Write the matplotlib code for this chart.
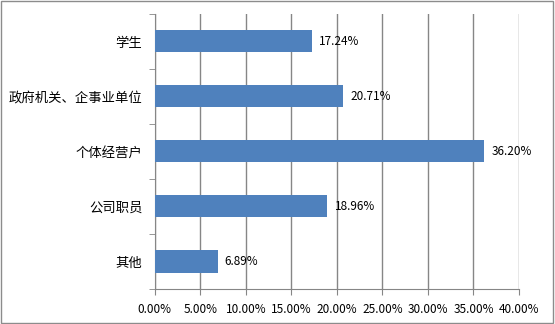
import matplotlib.pyplot as plt
import matplotlib.patches as patches
from matplotlib.ticker import FuncFormatter, MultipleLocator, FixedLocator

plt.rcParams['font.family'] = ['Noto Sans CJK SC', 'DejaVu Sans']

# data, top to bottom
categories = ['学生', '政府机关、企事业单位', '个体经营户', '公司职员', '其他']
shares = [17.24, 20.71, 36.20, 18.96, 6.89]

bar_color = '#4F81BD'
grid_color = '#868686'

fig = plt.figure(figsize=(5.55, 3.24), dpi=100)
ax = fig.add_axes([0.279, 0.108, 0.656, 0.849])

ypos = list(range(len(categories)))[::-1]
ax.barh(ypos, shares, height=0.4, color=bar_color, zorder=3)

# value labels
for y, v in zip(ypos, shares):
    ax.text(v + 0.8, y, f'{v:.2f}%', va='center', ha='left', fontsize=8.5, color='#000000')

ax.set_xlim(0, 40)
ax.set_ylim(-0.5, len(categories) - 0.5)
ax.xaxis.set_major_locator(MultipleLocator(5))
ax.xaxis.set_major_formatter(FuncFormatter(lambda v, p: f'{v:.2f}%'))
ax.grid(axis='x', color=grid_color, linewidth=1, zorder=0)

ax.set_yticks(ypos)
ax.set_yticklabels(categories, fontsize=9.6)
ax.yaxis.set_minor_locator(FixedLocator([i - 0.5 for i in range(len(categories) + 1)]))
ax.tick_params(axis='y', which='major', length=0, pad=9)
ax.tick_params(axis='y', which='minor', length=4, color=grid_color)
ax.tick_params(axis='x', length=4, color=grid_color, labelsize=8.5, pad=6)

for s in ['top', 'right']:
    ax.spines[s].set_visible(False)
for s in ['left', 'bottom']:
    ax.spines[s].set_color(grid_color)

# outer border of chart area
fig.patches.append(patches.Rectangle((0.002, 0.003), 0.994, 0.994, transform=fig.transFigure,
                                     fill=False, edgecolor='#8c8c8c', linewidth=1))

fig.savefig('out.png', dpi=100)
